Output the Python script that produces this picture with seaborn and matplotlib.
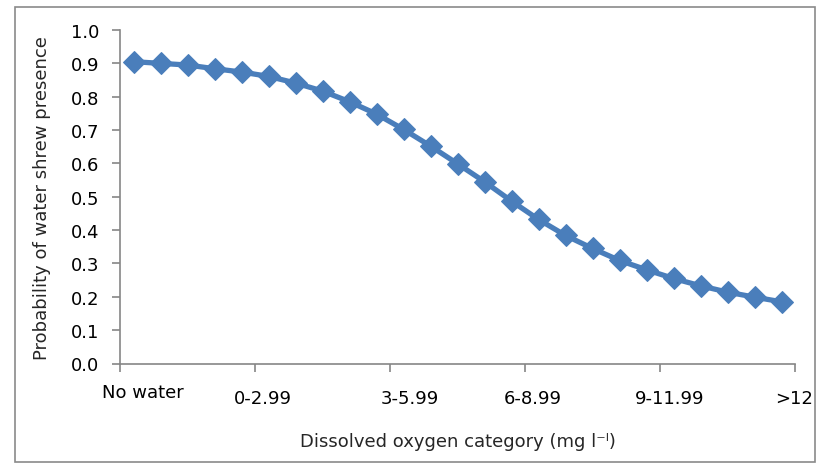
import numpy as np
import pandas as pd
import matplotlib
matplotlib.use("Agg")
import matplotlib.pyplot as plt
from matplotlib.patches import Rectangle
import seaborn as sns

# Modelled probability of water shrew presence along the dissolved-oxygen gradient
step = list(range(25))
probability = [0.905, 0.900, 0.895, 0.884, 0.874, 0.861, 0.841, 0.817, 0.785,
               0.748, 0.702, 0.652, 0.599, 0.545, 0.487, 0.432, 0.384, 0.345,
               0.309, 0.281, 0.255, 0.233, 0.214, 0.199, 0.185]

# Category labels and where they sit along the axis (in step units)
category_labels = ["No water", "0-2.99", "3-5.99", "6-8.99", "9-11.99", ">12"]
label_x = [0.35, 4.8, 10.25, 14.8, 19.85, 24.45]
label_y = [-0.085, -0.103, -0.103, -0.103, -0.103, -0.103]

df = pd.DataFrame({"step": step, "probability": probability})

sns.set_style("white")
plt.rcParams["font.family"] = ["DejaVu Sans"]

W, H = 821, 464
FS = 13
fig = plt.figure(figsize=(W / 100, H / 100), dpi=100)
fig.patch.set_facecolor("white")

# outer chart border
fig.patches.append(Rectangle((15 / W, 1 - 463 / H), 800 / W, 455 / H,
                             transform=fig.transFigure, fill=False,
                             edgecolor="#8a8a8a", linewidth=1.2))

ax = fig.add_axes([120 / W, 1 - 364.5 / H, 675 / W, 333.5 / H])
blue = "#4a7ebb"
sns.lineplot(data=df, x="step", y="probability", ax=ax, color=blue,
             linewidth=3.8, marker="D", markersize=11.5,
             markeredgecolor=blue, markerfacecolor=blue)

ax.set_xlim(-0.5, 24.5)
ax.set_ylim(0, 1.0)
ax.set_yticks(np.arange(0, 1.01, 0.1))
ax.set_yticklabels([f"{v:.1f}" for v in np.arange(0, 1.01, 0.1)], fontsize=FS)
ax.set_xticks([-0.5, 4.5, 9.5, 14.5, 19.5, 24.5])
ax.set_xticklabels([])

for lab, xp, yp in zip(category_labels, label_x, label_y):
    ax.text(xp, yp, lab, transform=ax.get_xaxis_transform(), ha="center",
            va="center", fontsize=FS, color="black")

ax.set_xlabel("Dissolved oxygen category (mg l\u207b\u02e1)",
              fontsize=FS, labelpad=39)
ax.set_ylabel("Probability of water shrew presence", fontsize=FS,
              labelpad=14)

for side in ["top", "right"]:
    ax.spines[side].set_visible(False)
for side in ["left", "bottom"]:
    ax.spines[side].set_color("#868686")
    ax.spines[side].set_linewidth(1.2)
ax.tick_params(axis="both", direction="out", length=6, width=1.2,
               color="#868686", labelcolor="black", bottom=True, left=True)
ax.tick_params(axis="y", pad=9)
ax.tick_params(axis="x", pad=4)

fig.savefig("out.png", dpi=100)
